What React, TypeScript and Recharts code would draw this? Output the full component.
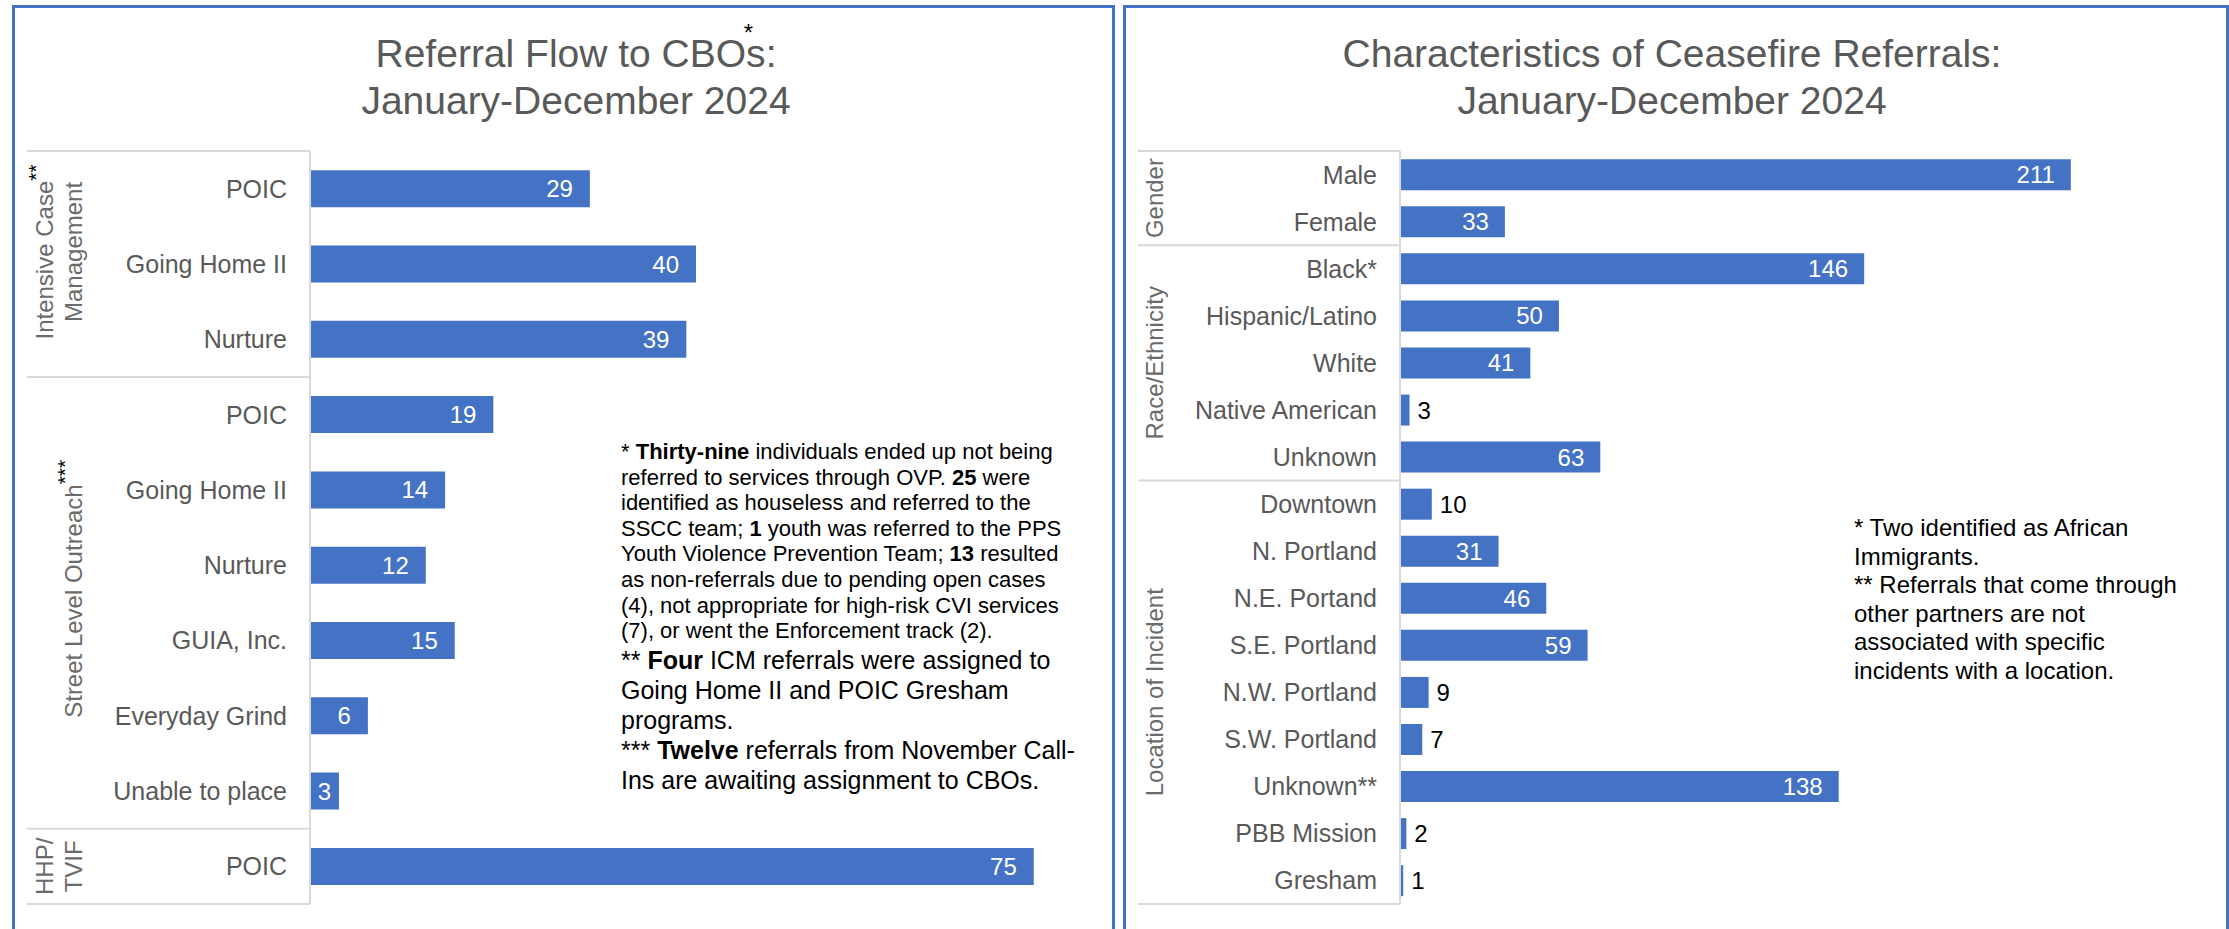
import React from 'react';
import { BarChart, Bar, XAxis, YAxis, LabelList } from 'recharts';

// Referral Flow to CBOs
const flowLabels = ['POIC', 'Going Home II', 'Nurture', 'POIC', 'Going Home II', 'Nurture', 'GUIA, Inc.', 'Everyday Grind', 'Unable to place', 'POIC'];
const flowValues = [29, 40, 39, 19, 14, 12, 15, 6, 3, 75];
const flowGroupSizes = [3, 6, 1];
const flowGroupLines = [['Intensive Case', 'Management'], ['Street Level Outreach'], ['HHP/', 'TVIF']];
const flowGroupMarks = ['**', '***', ''];

// Characteristics of Ceasefire Referrals
const charLabels = ['Male', 'Female', 'Black*', 'Hispanic/Latino', 'White', 'Native American', 'Unknown', 'Downtown', 'N. Portland', 'N.E. Portand', 'S.E. Portland', 'N.W. Portland', 'S.W. Portland', 'Unknown**', 'PBB Mission', 'Gresham'];
const charValues = [211, 33, 146, 50, 41, 3, 63, 10, 31, 46, 59, 9, 7, 138, 2, 1];
const charGroupSizes = [2, 5, 9];
const charGroupLines = [['Gender'], ['Race/Ethnicity'], ['Location of Incident']];
const charGroupMarks = ['', '', ''];

const FONT = '"Liberation Sans", Arial, Helvetica, sans-serif';
const BLUE = '#4472C4';
const BOX = '#D9D9D9';
const GREY = '#595959';

const W = 2229;
const H = 929;
const TOP = 151;
const BOTTOM = 25;

function GroupTick(props: any) {
  const { y, payload, cfg } = props;
  const i = Number(payload.value);
  const n = cfg.labels.length;
  const band = (H - TOP - BOTTOM) / n;

  // find which group this row starts, if any
  let start = 0;
  let g = -1;
  cfg.sizes.forEach((s: number, k: number) => {
    if (start === i) g = k;
    start += s;
  });

  const parts: any[] = [];
  parts.push(
    <text key="t" x={cfg.axisX - 23} y={y} textAnchor="end" dominantBaseline="central"
      fontSize={25} fill={GREY} fontFamily={FONT}>
      {cfg.labels[i]}
    </text>
  );
  if (g >= 0) {
    const top = y - band / 2;
    parts.push(<line key="s" x1={cfg.boxLeft} x2={cfg.axisX} y1={top} y2={top} stroke={BOX} strokeWidth={2} />);
    const cy = top + (cfg.sizes[g] * band) / 2 + cfg.groupShift[g];
    const lines = cfg.groupLines[g];
    const xs = lines.length === 2 ? cfg.cols : [cfg.single];
    lines.forEach((ln: string, j: number) => (
      parts.push(
        <text key={'g' + j} x={xs[j]} y={cy} transform={`rotate(-90 ${xs[j]} ${cy})`}
          textAnchor="middle" dominantBaseline="central" fontSize={24} fill="#6b6b6b" fontFamily={FONT}>
          {ln}
          {j === 0 && cfg.marks[g] ? <tspan fill="#000" fontSize={21} dy={-10}>{cfg.marks[g]}</tspan> : null}
        </text>
      )
    ));
  }
  if (i === n - 1) {
    const bot = y + band / 2;
    parts.push(<line key="b" x1={cfg.boxLeft} x2={cfg.axisX} y1={bot} y2={bot} stroke={BOX} strokeWidth={2} />);
  }
  return <g>{parts}</g>;
}

const flowLabel = (p: any) => {
  const x = Number(p.x), y = Number(p.y), w = Number(p.width), h = Number(p.height);
  const small = w < 50;
  return (
    <text x={small ? x + w / 2 : x + w - 17} y={y + h / 2} textAnchor={small ? 'middle' : 'end'}
      dominantBaseline="central" fill="#fff" fontSize={24} fontFamily={FONT}>
      {p.value}
    </text>
  );
};

const charLabel = (p: any) => {
  const x = Number(p.x), y = Number(p.y), w = Number(p.width), h = Number(p.height);
  const out = Number(p.value) < 20;
  return (
    <text x={out ? x + w + 8 : x + w - 16} y={y + h / 2} textAnchor={out ? 'start' : 'end'}
      dominantBaseline="central" fill={out ? '#000' : '#fff'} fontSize={24} fontFamily={FONT}>
      {p.value}
    </text>
  );
};

const flowData = flowLabels.map((name, i) => ({ id: i, name, value: flowValues[i] }));
const charData = charLabels.map((name, i) => ({ id: i, name, value: charValues[i] }));

const flowCfg = {
  labels: flowLabels, sizes: flowGroupSizes, groupLines: flowGroupLines, marks: flowGroupMarks,
  axisX: 310, boxLeft: 27, cols: [45, 74], single: 74, groupShift: [-12, -14, 0],
};
const charCfg = {
  labels: charLabels, sizes: charGroupSizes, groupLines: charGroupLines, marks: charGroupMarks,
  axisX: 280, boxLeft: 18, cols: [20, 48], single: 34, groupShift: [0, 0, 0],
};

const panel = (left: number, width: number): React.CSSProperties => ({
  position: 'absolute', left, top: 5, width, height: H + 10, boxSizing: 'border-box',
  border: `3px solid ${BLUE}`, borderBottom: 'none',
});

const titleStyle = (center: number): React.CSSProperties => ({
  position: 'absolute', left: center - 500, width: 1000, top: 30, textAlign: 'center',
  fontFamily: FONT, fontSize: 39, lineHeight: '47px', color: GREY,
});

export default function App() {
  return (
    <div style={{ position: 'absolute', left: 0, top: 0, width: W, height: H, overflow: 'hidden', background: '#fff', fontFamily: FONT }}>
      <div style={panel(12, 1103)} />
      <div style={panel(1123, 1106)} />

      <div style={titleStyle(576)}>
        <div>
          Referral Flow to CBOs
          <span style={{ display: 'inline-block', width: 0, position: 'relative' }}>
            <span style={{ position: 'absolute', left: -22, top: -46, fontSize: 24, color: '#000', lineHeight: '24px' }}>*</span>
          </span>
          :
        </div>
        <div>January-December 2024</div>
      </div>
      <div style={titleStyle(1672)}>
        <div>Characteristics of Ceasefire Referrals:</div>
        <div>January-December 2024</div>
      </div>

      <div style={{ position: 'absolute', left: 0, top: 0 }}>
        <BarChart width={1110} height={H} data={flowData} layout="vertical"
          margin={{ top: TOP, bottom: BOTTOM, left: 0, right: 28 }} barCategoryGap="25.5%">
          <XAxis type="number" domain={[0, 80]} hide />
          <YAxis type="category" dataKey="id" width={310} interval={0} tickLine={false} tickSize={0}
            axisLine={{ stroke: BOX, strokeWidth: 2 }} tick={(p: any) => <GroupTick {...p} cfg={flowCfg} />} />
          <Bar dataKey="value" fill={BLUE} isAnimationActive={false}>
            <LabelList dataKey="value" content={flowLabel} />
          </Bar>
        </BarChart>
      </div>

      <div style={{ position: 'absolute', left: 1120, top: 0 }}>
        <BarChart width={1105} height={H} data={charData} layout="vertical"
          margin={{ top: TOP, bottom: BOTTOM, left: 0, right: 62 }} barCategoryGap="17.5%">
          <XAxis type="number" domain={[0, 240]} hide />
          <YAxis type="category" dataKey="id" width={280} interval={0} tickLine={false} tickSize={0}
            axisLine={{ stroke: BOX, strokeWidth: 2 }} tick={(p: any) => <GroupTick {...p} cfg={charCfg} />} />
          <Bar dataKey="value" fill={BLUE} isAnimationActive={false}>
            <LabelList dataKey="value" content={charLabel} />
          </Bar>
        </BarChart>
      </div>

      <div style={{ position: 'absolute', left: 621, top: 439, color: '#000' }}>
        <div style={{ fontSize: 22, lineHeight: '25.6px', whiteSpace: 'nowrap' }}>
          <div>* <b>Thirty-nine</b> individuals ended up not being</div>
          <div>referred to services through OVP. <b>25</b> were</div>
          <div>identified as houseless and referred to the</div>
          <div>SSCC team; <b>1</b> youth was referred to the PPS</div>
          <div>Youth Violence Prevention Team; <b>13</b> resulted</div>
          <div>as non-referrals due to pending open cases</div>
          <div>(4), not appropriate for high-risk CVI services</div>
          <div>(7), or went the Enforcement track (2).</div>
        </div>
        <div style={{ fontSize: 25, lineHeight: '30px', marginTop: 1, whiteSpace: 'nowrap' }}>
          <div>** <b>Four</b> ICM referrals were assigned to</div>
          <div>Going Home II and POIC Gresham</div>
          <div>programs.</div>
          <div>*** <b>Twelve</b> referrals from November Call-</div>
          <div>Ins are awaiting assignment to CBOs.</div>
        </div>
      </div>

      <div style={{ position: 'absolute', left: 1854, top: 514, fontSize: 24, lineHeight: '28.6px', color: '#000', whiteSpace: 'nowrap' }}>
        <div>* Two identified as African</div>
        <div>Immigrants.</div>
        <div>** Referrals that come through</div>
        <div>other partners are not</div>
        <div>associated with specific</div>
        <div>incidents with a location.</div>
      </div>
    </div>
  );
}
